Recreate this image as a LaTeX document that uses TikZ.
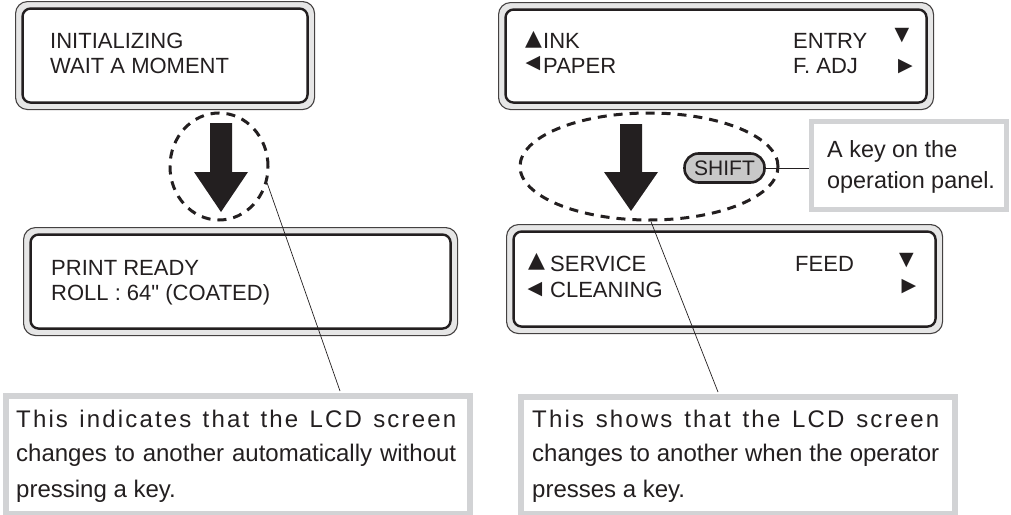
\documentclass[tikz,border=0pt]{standalone}
\usepackage{fontspec}
\setmainfont{Liberation Sans}[Ligatures=TeXOff]
\newfontfamily\symfont{DejaVu Sans}
\newfontfamily\spacedfont[LetterSpace=9]{Liberation Sans}
\usetikzlibrary{shapes.geometric}
\definecolor{ink}{HTML}{231F20}
\definecolor{panelgray}{HTML}{E6E6E6}
\definecolor{calloutgray}{HTML}{D2D3D5}
\definecolor{keygray}{HTML}{C8C8C8}
\tikzset{
 lcdouter/.style={draw=ink!85, line width=1.1pt, fill=panelgray, rounded corners=12pt, inner sep=0},
 lcdinner/.style={draw=ink, line width=2.4pt, fill=white, rounded corners=8pt, inner sep=0},
 lcdtext/.style={anchor=base west, inner sep=0, font=\fontsize{22}{25}\selectfont, text=ink},
 tri/.style={inner sep=0, font=\symfont\fontsize{19}{19}\selectfont, text=ink},
 bigtri/.style={inner sep=0, font=\symfont\fontsize{22}{22}\selectfont, text=ink},
 callout/.style={draw=calloutgray, line width=6pt, fill=white, inner sep=0},
 calltext/.style={anchor=base west, inner sep=0, font=\fontsize{24}{30}\selectfont, text=ink},
 ring/.style={draw=ink, line width=3pt, dash pattern=on 9pt off 7pt, ellipse, inner sep=0},
 leader/.style={draw=ink, line width=0.7pt},
 blockarrow/.style={fill=ink},
 keycap/.style={draw=ink, line width=2.6pt, fill=keygray, rounded corners=14pt, inner sep=0, font=\fontsize{21}{21}\selectfont, text=ink},
}
\begin{document}
\begin{tikzpicture}[x=1pt,y=-1pt]
\useasboundingbox (0,0) rectangle (1011,514);
% callout boxes (bottom)
\node[callout, anchor=north west, minimum width=464pt, minimum height=118pt] (noteL) at (3,393) {};
\node[callout, anchor=north west, minimum width=434pt, minimum height=117pt] (noteR) at (518,394) {};
% LCD panels
\node[lcdouter, anchor=north west, minimum width=299pt, minimum height=108pt] (lcdA) at (15,1) {};
\node[lcdinner, minimum width=285pt, minimum height=94pt] (lcdAin) at (lcdA.center) {};
\node[lcdouter, anchor=north west, minimum width=435pt, minimum height=107pt] (lcdB) at (498,2) {};
\node[lcdinner, minimum width=421pt, minimum height=93pt] (lcdBin) at (lcdB.center) {};
\node[lcdouter, anchor=north west, minimum width=434pt, minimum height=108pt] (lcdC) at (23,227) {};
\node[lcdinner, minimum width=420pt, minimum height=94pt] (lcdCin) at (lcdC.center) {};
\node[lcdouter, anchor=north west, minimum width=436pt, minimum height=109pt] (lcdD) at (506,224) {};
\node[lcdinner, minimum width=422pt, minimum height=95pt] (lcdDin) at (lcdD.center) {};
% LCD texts
\node[lcdtext] (a1) at (50,48) {INITIALIZING};
\node[lcdtext] (a2) at (50,73) {WAIT A MOMENT};
\node[bigtri] (b1t) at (533.5,39.5) {▲};
\node[lcdtext] (b1) at (543,48) {INK};
\node[tri] (b2t) at (533,64) {◀};
\node[lcdtext] (b2) at (543,73) {PAPER};
\node[lcdtext] (b3) at (793,48) {ENTRY};
\node[lcdtext] (b4) at (793,73) {F. ADJ};
\node[tri] (b3t) at (902,36) {▼};
\node[tri] (b4t) at (905.5,66.5) {▶};
\node[lcdtext] (c1) at (51,275) {PRINT READY};
\node[lcdtext] (c2) at (51,300) {ROLL : 64" (COATED)};
\node[bigtri] (d1t) at (536.5,262) {▲};
\node[lcdtext] (d1) at (550,271) {SERVICE};
\node[tri] (d2t) at (535,290) {◀};
\node[lcdtext] (d2) at (550,297) {CLEANING};
\node[lcdtext] (d3) at (795,271) {FEED};
\node[tri] (d3t) at (906.5,261) {▼};
\node[tri] (d4t) at (909,286.5) {▶};
% dashed rings
\node[ring, minimum width=98pt, minimum height=107pt] (ringL) at (219,166.5) {};
\node[ring, minimum width=258pt, minimum height=107pt] (ringR) at (649,166.5) {};
% block arrows
\fill[blockarrow] (210,123) -- (232,123) -- (232,172) -- (248,172) -- (221,212) -- (194,172) -- (210,172) -- cycle;
\fill[blockarrow] (620,124) -- (642,124) -- (642,172) -- (658,172) -- (631,211) -- (604,172) -- (620,172) -- cycle;
% SHIFT key and its note
\node[keycap, minimum width=80pt, minimum height=29pt] (shift) at (724.5,168) {SHIFT};
\node[callout, line width=5pt, minimum width=195pt, minimum height=88pt] (keynote) at (909,165.5) {};
\node[anchor=base west, inner sep=0, font=\fontsize{23.4}{30}\selectfont, text=ink] (k1) at (827,157) {A key on the};
\node[anchor=base west, inner sep=0, font=\fontsize{23.4}{30}\selectfont, text=ink] (k2) at (827,188) {operation panel.};
\draw[leader] (shift.east) -- (shift.east -| keynote.west);
% leaders
\coordinate (tipL) at (340,391);
\coordinate (tipR) at (718,392);
\draw[leader] (ringL.-19) -- (tipL);
\draw[leader] (ringR.-88) -- (tipR);
% callout texts
\node[calltext] (l1) at (16,427) {\makebox[440pt][s]{\spacedfont This indicates that the LCD screen}};
\node[calltext] (l2) at (16,461) {\makebox[440pt][s]{changes to another automatically without}};
\node[calltext] (l3) at (16,497) {pressing a key.};
\node[calltext] (r1) at (532,427) {\makebox[407pt][s]{\spacedfont This shows that the LCD screen}};
\node[calltext] (r2) at (532,461) {\makebox[407pt][s]{changes to another when the operator}};
\node[calltext] (r3) at (532,497) {presses a key.};
\end{tikzpicture}
\end{document}
